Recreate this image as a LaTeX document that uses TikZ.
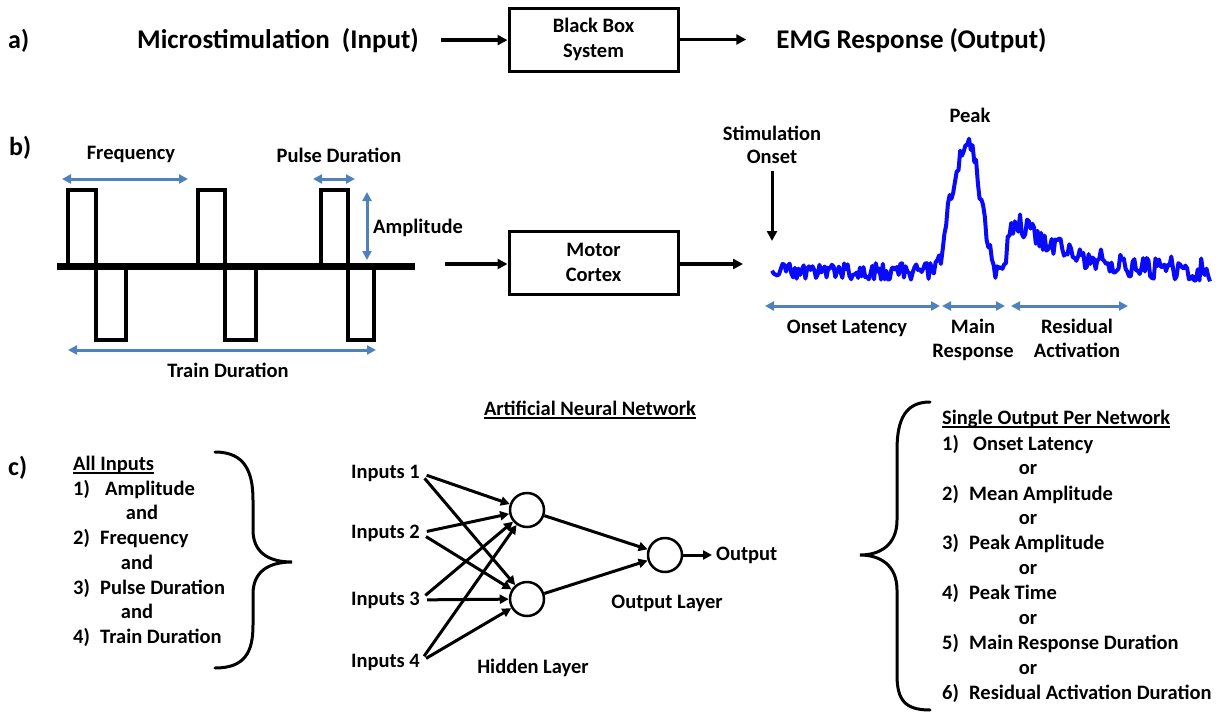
\documentclass[tikz,border=0pt]{standalone}
\usepackage{fontspec}
\setmainfont{Carlito}
\usetikzlibrary{arrows.meta}
\definecolor{dimblue}{RGB}{79,129,189}
\definecolor{emgblue}{RGB}{10,10,250}
\pgfmathdeclarefunction{emgs}{1}{%
  \pgfmathparse{133*exp(max(-12,-0.5*((#1-967)/12.5)^2)) + 26*exp(max(-12,-((#1-948)/2.5)^2)) - 16*exp(max(-12,-((#1-997)/5)^2)) + 50*ifthenelse(#1<1018, exp(max(-12,-((#1-1018)/12)^2)), exp(max(-12,-(#1-1018)/52))) + ifthenelse(#1<995,9,12)*rand}%
}
\begin{document}
\begin{tikzpicture}[x=1pt,y=-1pt,
  txt/.style={font=\fontsize{20.5}{25}\selectfont\bfseries, inner sep=0pt},
  big/.style={font=\fontsize{27}{30}\selectfont\bfseries, inner sep=0pt},
  lbl/.style={font=\fontsize{26}{30}\selectfont\bfseries, inner sep=0pt},
  arr/.style={line width=3.5pt, -{Triangle[length=10pt,width=10pt]}},
  narr/.style={line width=3pt, -{Triangle[length=9pt,width=9pt]}},
  dim/.style={line width=3pt, draw=dimblue, {Triangle[length=9pt,width=9pt]}-{Triangle[length=9pt,width=9pt]}},
  bbox/.style={draw, line width=3pt, minimum width=169pt, minimum height=63pt, align=center, inner sep=0pt, font=\fontsize{20.5}{25}\selectfont\bfseries},
  neuron/.style={circle, draw, line width=2.5pt, minimum size=34pt, inner sep=0pt},
  pulse/.style={line width=3.5pt, line join=miter},
  brace/.style={line width=3pt, line cap=round},
  ulin/.style={line width=1.5pt}
]
\useasboundingbox (0,0) rectangle (1225,712);

% ---------------- a) ----------------
\node[lbl, anchor=base west] (la) at (8,48) {a)};
\node[big, anchor=base] (micro) at (278,48) {Microstimulation\ \ (Input)};
\node[bbox] (bb) at (593.5,39.5) {Black Box\\System};
\node[big, anchor=base] (emg) at (911.5,48) {EMG Response (Output)};
\draw[arr, shorten <=22pt] (micro.east) -- (micro.east -| bb.west);
\draw[arr, shorten >=30pt] (bb.east) -- (bb.east -| emg.west);

% ---------------- b) ----------------
\node[lbl, anchor=base west] (lb) at (9,155) {b)};
\draw[pulse] (68,266) -- (68,190) -- (96,190) -- (96,340) -- (126,340) -- (126,266);
\draw[pulse] (198,266) -- (198,190) -- (225,190) -- (225,340) -- (256,340) -- (256,266);
\draw[pulse] (321,266) -- (321,190) -- (348,190) -- (348,340) -- (374,340) -- (374,266);
\draw[line width=7pt] (57,266) -- (415,266);
\draw[dim] (62,179) -- (188,179);
\draw[dim] (313,179) -- (355,179);
\draw[dim] (367,192) -- (367,260);
\draw[dim] (68,350) -- (376,350);
\node[txt, anchor=base] (freq) at (131,159) {Frequency};
\node[txt, anchor=base] (pdur) at (339,162) {Pulse Duration};
\node[txt, anchor=base west] (ampl) at (373,233) {Amplitude};
\node[txt, anchor=base] (tdur) at (228,377) {Train Duration};

\node[bbox] (mc) at (593.5,262.5) {Motor\\Cortex};
\coordinate (wout) at (445,264);
\coordinate (ein) at (743,264);
\draw[arr] (wout) -- (wout -| mc.west);
\draw[arr] (ein -| mc.east) -- (ein);

% EMG trace
\pgfmathsetseed{11}
\draw[emgblue, line width=4pt, line join=round] plot[domain=772:1210, samples=250, variable=\x] (\x, {271 - emgs(\x)});

\node[txt, anchor=base] (stim1) at (772,140) {Stimulation};
\node[txt, anchor=base] (stim2) at (772,163) {Onset};
\coordinate (stimend) at (772,241);
\draw[line width=3pt, -{Triangle[length=10pt,width=10pt]}, shorten <=8pt] (stim2.south) -- (stimend);
\node[txt, anchor=base] (peak) at (970,122) {Peak};

\draw[dim] (765,306) -- (940,306);
\draw[dim] (942,306) -- (1005,306);
\draw[dim] (1011,306) -- (1128,306);
\node[txt, anchor=base] (onl) at (847,333) {Onset Latency};
\node[txt, anchor=base] (mr1) at (973,333) {Main};
\node[txt, anchor=base] (mr2) at (973,357) {Response};
\node[txt, anchor=base] (ra1) at (1077,333) {Residual};
\node[txt, anchor=base] (ra2) at (1077,357) {Activation};

% ---------------- c) ----------------
\node[lbl, anchor=base west] (lc) at (8,475) {c)};
\node[txt, anchor=base west] (ai) at (73,470) {All Inputs};
\draw[ulin] ([yshift=-3pt]ai.base west) -- ([yshift=-3pt]ai.base east);
\node[txt, anchor=base west] (i1) at (73,495) {\makebox[32pt][l]{1)}Amplitude};
\node[txt, anchor=base] (and1) at (142,519) {and};
\node[txt, anchor=base west] (i2) at (73,544) {\makebox[27pt][l]{2)}Frequency};
\node[txt, anchor=base] (and2) at (137,569) {and};
\node[txt, anchor=base west] (i3) at (73,594) {\makebox[27pt][l]{3)}Pulse Duration};
\node[txt, anchor=base] (and3) at (137,618) {and};
\node[txt, anchor=base west] (i4) at (73,643) {\makebox[27pt][l]{4)}Train Duration};

\draw[brace] (215,452) .. controls (245,452) and (253,472) .. (253,500) -- (253,530)
  .. controls (253,552) and (268,562) .. (292,562)
  .. controls (268,562) and (253,572) .. (253,594) -- (253,625)
  .. controls (253,652) and (245,668) .. (215,668);

% network
\node[txt, anchor=base] (ann) at (590,415) {Artificial Neural Network};
\draw[ulin] ([yshift=-3pt]ann.base west) -- ([yshift=-3pt]ann.base east);
\node[txt, anchor=base east] (in1) at (420,478) {Inputs 1};
\node[txt, anchor=base east] (in2) at (420,538) {Inputs 2};
\node[txt, anchor=base east] (in3) at (420,605) {Inputs 3};
\node[txt, anchor=base east] (in4) at (420,667) {Inputs 4};
\node[neuron] (h1) at (527,510) {};
\node[neuron] (h2) at (527,599) {};
\node[neuron] (on) at (665,555) {};
\foreach \i in {1,2,3,4}{
  \foreach \h in {h1,h2}{
    \draw[narr, shorten <=7pt] (in\i.east) -- (\h);
  }
}
\draw[narr] (h1) -- (on);
\draw[narr] (h2) -- (on);
\coordinate (oend) at (712,555);
\draw[narr] (on) -- (oend);
\node[txt, anchor=west] (outl) at (716,555) {Output};
\node[txt, anchor=base] (hl) at (533,673) {Hidden Layer};
\node[txt, anchor=base] (ol) at (667,608) {Output Layer};

% right list
\draw[brace] (930,402) .. controls (905,402) and (897,420) .. (897,450) -- (897,520)
  .. controls (897,545) and (880,555) .. (860,555)
  .. controls (880,555) and (897,565) .. (897,590) -- (897,675)
  .. controls (897,700) and (905,710) .. (930,710);
\node[txt, anchor=base west] (so) at (942,424) {Single Output Per Network};
\draw[ulin] ([yshift=-3pt]so.base west) -- ([yshift=-3pt]so.base east);
\node[txt, anchor=base west] (o1) at (942,450) {\makebox[31pt][l]{1)}Onset Latency};
\node[txt, anchor=base] (or1) at (1028,474) {or};
\node[txt, anchor=base west] (o2) at (942,500) {\makebox[27pt][l]{2)}Mean Amplitude};
\node[txt, anchor=base] (or2) at (1028,524) {or};
\node[txt, anchor=base west] (o3) at (942,549) {\makebox[27pt][l]{3)}Peak Amplitude};
\node[txt, anchor=base] (or3) at (1028,574) {or};
\node[txt, anchor=base west] (o4) at (942,599) {\makebox[27pt][l]{4)}Peak Time};
\node[txt, anchor=base] (or4) at (1028,624) {or};
\node[txt, anchor=base west] (o5) at (942,649) {\makebox[27pt][l]{5)}Main Response Duration};
\node[txt, anchor=base] (or5) at (1028,674) {or};
\node[txt, anchor=base west] (o6) at (942,699) {\makebox[27pt][l]{6)}Residual Activation Duration};
\end{tikzpicture}
\end{document}
